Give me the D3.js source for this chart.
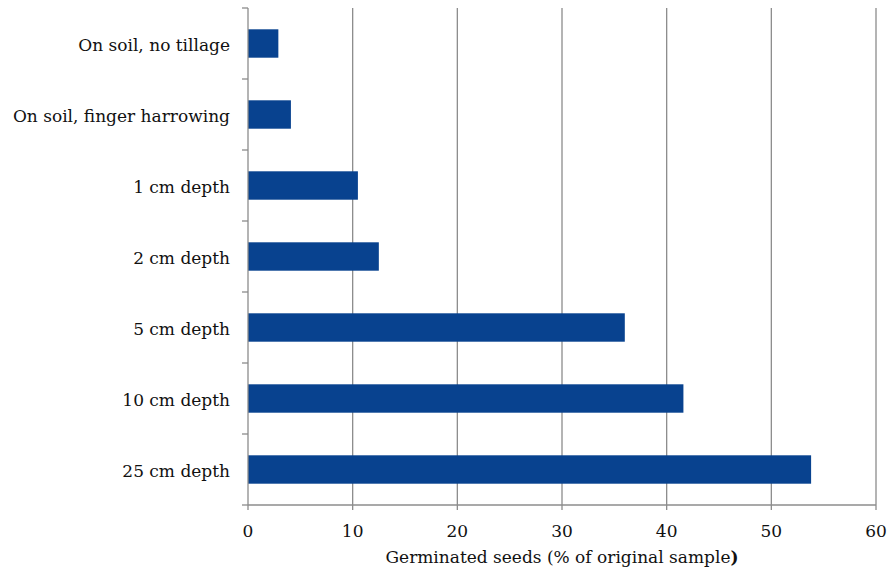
<!DOCTYPE html>
<html><head><meta charset="utf-8">
<script src="https://cdn.jsdelivr.net/npm/d3@7"></script>
<style>body{margin:0;background:#fff;}</style>
</head><body><svg id="c" width="892" height="572"></svg>
<script>
const categories = ["On soil, no tillage","On soil, finger harrowing","1 cm depth","2 cm depth","5 cm depth","10 cm depth","25 cm depth"];
const values = [2.9, 4.1, 10.5, 12.5, 36.0, 41.6, 53.8];
const xTicks = [0,10,20,30,40,50,60];
const xTitle = "Germinated seeds (% of original sample";

(function(){
const svg = d3.select("#c").style("font-family","'DejaVu Serif', 'Liberation Serif', serif");
const pL = 248, pR = 876, pT = 8, pB = 505;
const fs = 17;
const x = d3.scaleLinear().domain([0,60]).range([pL,pR]);
const y = d3.scaleBand().domain(categories).range([pT,pB]).paddingInner(0.6).paddingOuter(0.3);
const yb = d3.scaleBand().domain(categories).range([pT,pB]);
const grey = "#8c8c8c";

svg.append("g").selectAll("line").data(xTicks.slice(1)).join("line")
  .attr("x1",d=>x(d)).attr("x2",d=>x(d)).attr("y1",pT).attr("y2",pB)
  .attr("stroke",grey).attr("stroke-width",1.3);

svg.append("g").selectAll("rect").data(values).join("rect")
  .attr("x",x(0)).attr("y",(d,i)=>y(categories[i]))
  .attr("width",d=>x(d)-x(0)).attr("height",y.bandwidth())
  .attr("fill","#08428f");

svg.append("line").attr("x1",pL).attr("x2",pL).attr("y1",pT).attr("y2",pB).attr("stroke",grey).attr("stroke-width",1.3);
const yTickPos = categories.map(c=>yb(c)).concat([pB]);
svg.append("g").selectAll("line").data(yTickPos).join("line")
  .attr("x1",pL-6).attr("x2",pL).attr("y1",d=>d).attr("y2",d=>d).attr("stroke",grey).attr("stroke-width",1.3);
svg.append("g").selectAll("text").data(categories).join("text")
  .attr("x",230).attr("y",d=>yb(d)+yb.bandwidth()/2+1.5).attr("dy","0.35em")
  .attr("text-anchor","end").attr("font-size",fs).attr("fill","#111").text(d=>d);

svg.append("line").attr("x1",pL).attr("x2",pR).attr("y1",pB).attr("y2",pB).attr("stroke",grey).attr("stroke-width",1.3);
svg.append("g").selectAll("line").data(xTicks).join("line")
  .attr("x1",d=>x(d)).attr("x2",d=>x(d)).attr("y1",pB).attr("y2",pB+5).attr("stroke",grey).attr("stroke-width",1.3);
svg.append("g").selectAll("text").data(xTicks).join("text")
  .attr("x",d=>x(d)).attr("y",531).attr("dy","0.35em").attr("text-anchor","middle")
  .attr("font-size",fs).attr("fill","#111").text(d=>d);

const t = svg.append("text").attr("x",(pL+pR)/2).attr("y",557).attr("dy","0.35em")
  .attr("text-anchor","middle").attr("font-size",fs).attr("fill","#111");
t.append("tspan").text(xTitle);
t.append("tspan").attr("font-weight","bold").text(")");
})();
</script></body></html>
